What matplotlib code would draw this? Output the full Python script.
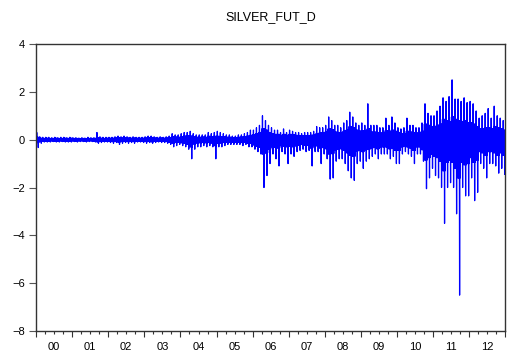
import numpy as np
import matplotlib
matplotlib.use("Agg")
import matplotlib.pyplot as plt
from matplotlib.ticker import FixedLocator, FuncFormatter, NullFormatter

plt.rcParams["font.family"] = ["Liberation Sans", "DejaVu Sans"]

TITLE = "SILVER_FUT_D"
YEARS = list(range(2000, 2013))

# monthly extremes of the daily change (one row per year, Jan..Dec)
month_hi = [
    [0.30, 0.12, 0.10, 0.10, 0.10, 0.08, 0.10, 0.08, 0.10, 0.10, 0.08, 0.10],
    [0.08, 0.08, 0.07, 0.08, 0.07, 0.10, 0.08, 0.08, 0.30, 0.12, 0.10, 0.10],
    [0.10, 0.10, 0.12, 0.15, 0.12, 0.15, 0.12, 0.10, 0.12, 0.10, 0.10, 0.10],
    [0.12, 0.15, 0.15, 0.12, 0.10, 0.12, 0.10, 0.12, 0.15, 0.25, 0.20, 0.20],
    [0.25, 0.30, 0.30, 0.35, 0.25, 0.20, 0.20, 0.20, 0.20, 0.30, 0.25, 0.30],
    [0.35, 0.30, 0.25, 0.20, 0.20, 0.15, 0.15, 0.20, 0.20, 0.25, 0.30, 0.40],
    [0.40, 0.50, 0.60, 1.00, 0.80, 0.60, 0.50, 0.40, 0.40, 0.30, 0.45, 0.30],
    [0.40, 0.35, 0.30, 0.30, 0.25, 0.30, 0.30, 0.30, 0.35, 0.55, 0.50, 0.50],
    [0.60, 0.95, 0.80, 0.60, 0.60, 0.50, 0.70, 0.80, 1.15, 0.95, 0.70, 0.60],
    [0.70, 0.60, 1.50, 0.60, 0.60, 0.60, 0.50, 0.50, 0.90, 0.60, 0.95, 0.70],
    [0.50, 0.45, 0.50, 0.90, 0.60, 0.60, 0.50, 0.50, 0.70, 1.50, 1.10, 1.00],
    [1.00, 1.20, 1.40, 1.75, 1.60, 1.80, 2.50, 1.70, 1.70, 1.60, 1.75, 1.55],
    [1.60, 1.50, 1.20, 0.90, 1.00, 1.10, 1.30, 0.90, 1.40, 1.00, 0.90, 0.80],
]
month_lo = [
    [-0.33, -0.15, -0.10, -0.10, -0.10, -0.08, -0.10, -0.10, -0.08, -0.10, -0.10, -0.10],
    [-0.08, -0.10, -0.08, -0.08, -0.10, -0.08, -0.08, -0.10, -0.15, -0.12, -0.10, -0.10],
    [-0.12, -0.15, -0.12, -0.20, -0.15, -0.12, -0.15, -0.12, -0.15, -0.10, -0.10, -0.12],
    [-0.15, -0.12, -0.15, -0.12, -0.10, -0.12, -0.12, -0.15, -0.20, -0.30, -0.25, -0.20],
    [-0.25, -0.30, -0.40, -0.80, -0.40, -0.30, -0.30, -0.25, -0.30, -0.25, -0.30, -0.80],
    [-0.30, -0.30, -0.25, -0.20, -0.20, -0.20, -0.20, -0.20, -0.25, -0.20, -0.30, -0.30],
    [-0.40, -0.50, -0.60, -2.00, -1.50, -1.00, -0.60, -0.80, -1.10, -0.50, -0.60, -1.00],
    [-0.60, -0.70, -0.50, -0.45, -0.40, -0.50, -0.45, -1.10, -0.50, -0.50, -1.00, -0.60],
    [-0.80, -1.65, -1.60, -0.90, -0.80, -0.80, -1.00, -1.30, -1.60, -1.70, -1.00, -0.90],
    [-1.20, -0.90, -0.80, -0.70, -0.60, -0.80, -0.60, -0.60, -0.60, -0.80, -0.70, -1.00],
    [-1.00, -0.60, -0.50, -0.60, -0.70, -1.00, -0.60, -0.60, -0.90, -2.05, -1.60, -1.20],
    [-1.50, -1.60, -2.00, -3.50, -2.00, -1.80, -2.00, -3.10, -6.50, -2.00, -2.35, -2.35],
    [-1.60, -2.55, -2.20, -1.00, -1.20, -1.60, -1.00, -1.00, -1.10, -1.40, -1.20, -1.45],
]

# typical daily range in each month (the dense part of the band)
core_hi = [
    [0.10, 0.06, 0.05, 0.06, 0.05, 0.05, 0.06, 0.05, 0.05, 0.06, 0.05, 0.06],
    [0.05, 0.05, 0.04, 0.05, 0.04, 0.05, 0.05, 0.05, 0.08, 0.06, 0.05, 0.06],
    [0.06, 0.06, 0.07, 0.08, 0.07, 0.08, 0.07, 0.06, 0.07, 0.06, 0.06, 0.06],
    [0.07, 0.08, 0.09, 0.07, 0.06, 0.07, 0.06, 0.07, 0.09, 0.12, 0.11, 0.10],
    [0.12, 0.15, 0.16, 0.15, 0.12, 0.10, 0.10, 0.11, 0.10, 0.14, 0.12, 0.14],
    [0.14, 0.13, 0.12, 0.10, 0.10, 0.09, 0.09, 0.10, 0.11, 0.12, 0.15, 0.18],
    [0.20, 0.25, 0.30, 0.45, 0.40, 0.30, 0.25, 0.22, 0.22, 0.18, 0.22, 0.18],
    [0.22, 0.20, 0.18, 0.16, 0.15, 0.17, 0.16, 0.18, 0.20, 0.25, 0.28, 0.28],
    [0.32, 0.45, 0.42, 0.32, 0.30, 0.28, 0.35, 0.40, 0.55, 0.50, 0.40, 0.35],
    [0.38, 0.35, 0.45, 0.32, 0.32, 0.30, 0.28, 0.28, 0.38, 0.32, 0.40, 0.35],
    [0.30, 0.25, 0.25, 0.35, 0.32, 0.30, 0.28, 0.28, 0.35, 0.65, 0.60, 0.55],
    [0.55, 0.60, 0.65, 0.85, 0.80, 0.75, 0.95, 0.85, 0.80, 0.75, 0.80, 0.70],
    [0.70, 0.65, 0.55, 0.45, 0.45, 0.50, 0.50, 0.45, 0.55, 0.50, 0.45, 0.40],
]
core_lo = [
    [-0.12, -0.07, -0.06, -0.06, -0.06, -0.05, -0.06, -0.06, -0.05, -0.06, -0.06, -0.06],
    [-0.05, -0.06, -0.05, -0.05, -0.06, -0.05, -0.05, -0.06, -0.09, -0.07, -0.06, -0.06],
    [-0.07, -0.08, -0.07, -0.10, -0.08, -0.07, -0.08, -0.07, -0.08, -0.06, -0.06, -0.07],
    [-0.08, -0.07, -0.09, -0.07, -0.06, -0.07, -0.07, -0.08, -0.10, -0.14, -0.12, -0.11],
    [-0.13, -0.15, -0.20, -0.30, -0.18, -0.14, -0.13, -0.12, -0.13, -0.12, -0.14, -0.25],
    [-0.15, -0.14, -0.12, -0.10, -0.10, -0.10, -0.10, -0.10, -0.12, -0.11, -0.15, -0.16],
    [-0.22, -0.28, -0.32, -0.60, -0.55, -0.40, -0.30, -0.32, -0.35, -0.25, -0.28, -0.30],
    [-0.28, -0.30, -0.25, -0.22, -0.20, -0.24, -0.22, -0.35, -0.25, -0.26, -0.35, -0.30],
    [-0.38, -0.60, -0.58, -0.42, -0.38, -0.38, -0.45, -0.55, -0.65, -0.70, -0.48, -0.42],
    [-0.50, -0.42, -0.40, -0.35, -0.30, -0.38, -0.30, -0.30, -0.30, -0.38, -0.35, -0.45],
    [-0.45, -0.30, -0.26, -0.30, -0.35, -0.45, -0.30, -0.30, -0.42, -0.85, -0.75, -0.60],
    [-0.70, -0.75, -0.90, -1.30, -0.95, -0.85, -0.95, -1.20, -1.60, -0.95, -1.05, -1.00],
    [-0.75, -0.95, -0.85, -0.50, -0.55, -0.65, -0.50, -0.50, -0.55, -0.65, -0.55, -0.65],
]

t, v = [], []
for i, year in enumerate(YEARS):
    for m in range(12):
        ch, cl = core_hi[i][m], core_lo[i][m]
        seq = [ch, cl, month_hi[i][m], cl, ch, cl, ch, month_lo[i][m], ch, cl]
        for k, val in enumerate(seq):
            t.append(year + (m + (k + 0.5) / len(seq)) / 12)
            v.append(val)
t = np.array(t)
v = np.array(v)

fig = plt.figure(figsize=(5.10, 3.53), dpi=100)
ax = fig.add_axes([36 / 510, (353 - 331) / 353, (505.5 - 36) / 510, (331 - 44) / 353])
ax.plot(t, v, color="#0000ff", linewidth=0.9)

ax.set_xlim(2000, 2013)
ax.set_ylim(-8, 4)
ax.set_yticks(range(-8, 5, 2))
ax.set_title(TITLE, fontsize=9, pad=17)

ax.xaxis.set_major_locator(FixedLocator(range(2000, 2014)))
ax.xaxis.set_major_formatter(NullFormatter())
quarters = [y + q / 4 for y in YEARS for q in (1, 2, 3)]
ax.xaxis.set_minor_locator(FixedLocator(quarters))
ax.xaxis.set_minor_formatter(FuncFormatter(
    lambda x, pos: f"{int(x) % 100:02d}" if abs(x - int(x) - 0.5) < 1e-6 else ""))

ax.tick_params(axis="x", which="major", direction="out", length=4, width=0.8, colors="#333333")
ax.tick_params(axis="x", which="minor", direction="out", length=2, width=0.8, pad=6,
               colors="#333333", labelcolor="black", labelsize=8)
ax.tick_params(axis="y", direction="out", length=5, width=0.8, colors="#555555",
               labelcolor="black", labelsize=8, pad=3)
for side in ax.spines.values():
    side.set_color("#333333")
    side.set_linewidth(1.0)

fig.savefig("out.png", dpi=100)
